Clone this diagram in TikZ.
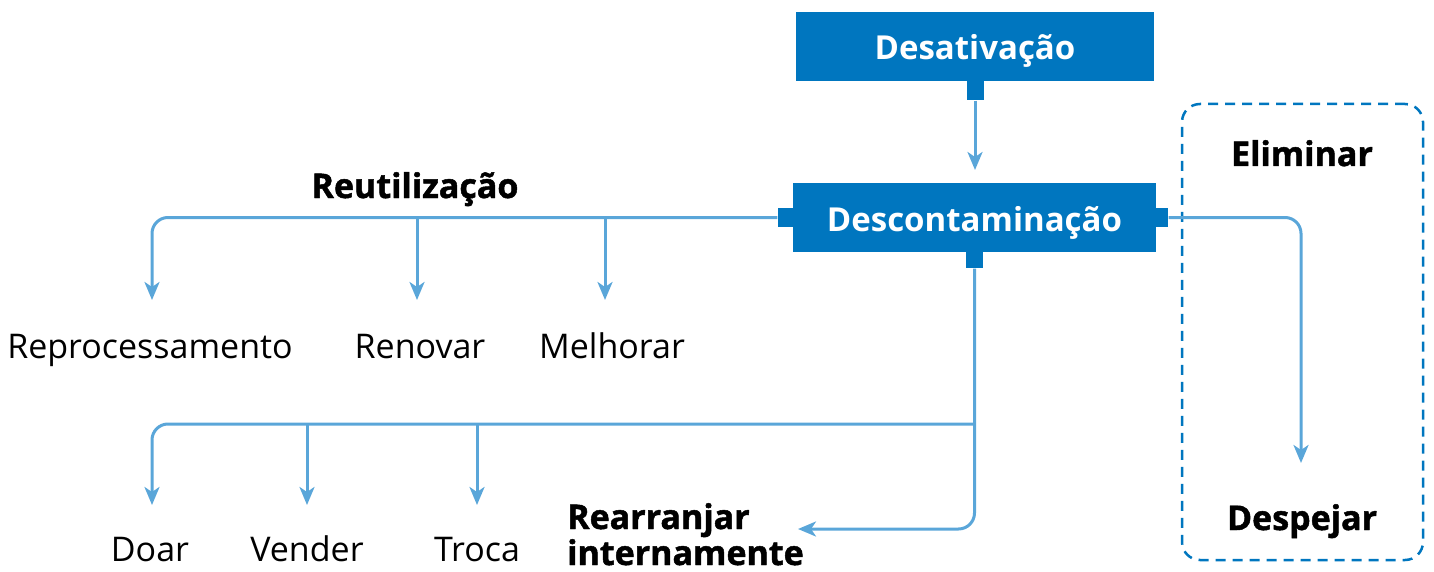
\documentclass[tikz,border=0pt]{standalone}
\usepackage{fontspec}
\setmainfont{Open Sans}
\newfontfamily\heavyfont{Open Sans}[BoldFeatures={FakeBold=1.4}]
\usetikzlibrary{arrows.meta}
\definecolor{boxblue}{HTML}{0076BF}
\definecolor{lineblue}{HTML}{5AA6D9}
\begin{document}
\begin{tikzpicture}[x=1pt,y=-1pt,
  bluebox/.style={fill=boxblue, text=white, font=\fontsize{33}{36}\selectfont\bfseries, inner sep=0pt},
  tab/.style={fill=boxblue, inner sep=0pt},
  conn/.style={draw=lineblue, line width=3pt, rounded corners=16pt, -{Stealth[length=18pt,width=15pt,inset=5pt]}},
  lbl/.style={font=\fontsize{34}{36}\selectfont, inner sep=0pt, anchor=base},
  blbl/.style={font=\heavyfont\fontsize{34}{36}\selectfont\bfseries, inner sep=0pt, anchor=base}]
\useasboundingbox (0,0) rectangle (1434,572);

% boxes
\node[bluebox, minimum width=358pt, minimum height=69pt] (desat) at (975,46.5) {};
\node[bluebox, anchor=base] (desattxt) at (975,60) {Desativação};
\node[bluebox, minimum width=363pt, minimum height=69pt] (descon) at (974.5,217.5) {};
\node[bluebox, anchor=base] (descontxt) at (974.5,231) {Descontaminação};

% tabs
\node[tab, minimum width=17pt, minimum height=19pt, anchor=north] (t1) at (desat.south) {};
\node[tab, minimum width=15pt, minimum height=19pt, anchor=east] (tl) at (descon.west) {};
\node[tab, minimum width=12pt, minimum height=19pt, anchor=west] (tr) at (descon.east) {};
\node[tab, minimum width=17pt, minimum height=16pt, anchor=north] (tb) at (descon.south) {};

% dashed group
\node[draw=boxblue, dashed, dash pattern=on 10pt off 7pt, line width=2.5pt, rounded corners=18pt,
      minimum width=241pt, minimum height=456pt, inner sep=0pt] (elimbox) at (1302.5,332) {};

% labels
\node[blbl] (reut) at (415,198) {Reutilização};
\node[lbl] (repro) at (150,358) {Reprocessamento};
\node[lbl] (renov) at (420,358) {Renovar};
\node[lbl] (melh) at (612,358) {Melhorar};
\node[blbl] (elim) at (1302,166) {Eliminar};
\node[blbl] (desp) at (1302,530) {Despejar};
\node[lbl] (doar) at (150,561) {Doar};
\node[lbl] (vend) at (307,561) {Vender};
\node[lbl] (troca) at (477,561) {Troca};
\node[blbl, anchor=base west, align=left] (rearr) at (567,565) {Rearranjar\\internamente};

% arrow end points
\coordinate (aDescon) at (975,170);
\coordinate (aRepro) at (152,300);
\coordinate (aRenov) at (417,300);
\coordinate (aMelh) at (605,300);
\coordinate (aDesp) at (1301,463);
\coordinate (aDoar) at (152,505);
\coordinate (aVend) at (307,505);
\coordinate (aTroca) at (477,505);
\coordinate (aRearr) at (798,529);
\coordinate (jBottom) at (975,424);

% connectors
\draw[conn] (t1.south) -- (aDescon);
\draw[conn] (tl.west) -| (aRepro);
\draw[conn] (aRenov |- tl.west) -- (aRenov);
\draw[conn] (aMelh |- tl.west) -- (aMelh);
\draw[conn] (tr.east) -| (aDesp);
\draw[conn] (tb.south) |- (aRearr);
\draw[conn] (jBottom) -| (aDoar);
\draw[conn] (aVend |- jBottom) -- (aVend);
\draw[conn] (aTroca |- jBottom) -- (aTroca);
\end{tikzpicture}
\end{document}
